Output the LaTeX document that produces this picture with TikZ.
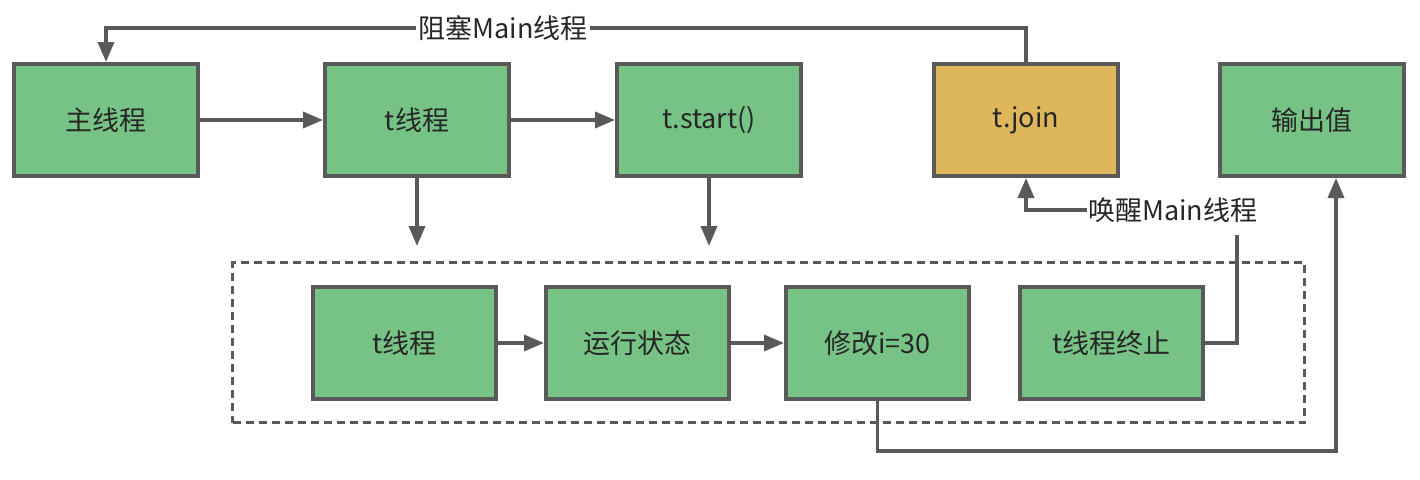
\documentclass[tikz,border=0pt]{standalone}
\usepackage{fontspec}
\setmainfont{Noto Sans CJK SC}
\usetikzlibrary{arrows.meta}
\definecolor{boxgreen}{HTML}{77C386}
\definecolor{boxgold}{HTML}{DFB75B}
\definecolor{edge}{HTML}{595959}
\definecolor{txt}{HTML}{262626}
\tikzset{
  box/.style={draw=edge, line width=4pt, fill=boxgreen, minimum width=184pt, minimum height=112pt, inner sep=0pt, text=txt, font=\fontsize{27}{32}\selectfont, anchor=north west},
  ibox/.style={box, minimum width=183pt, minimum height=112pt},
  conn/.style={draw=edge, line width=3.5pt, -{Triangle[length=20pt,width=16pt]}},
  plain/.style={draw=edge, line width=3.5pt},
  lbl/.style={fill=white, text=txt, font=\fontsize{27}{32}\selectfont, inner sep=2pt},
}
\begin{document}
\begin{tikzpicture}[x=1pt,y=-1pt]
\useasboundingbox (0,0) rectangle (1420,479);
% top row
\node[box] (main) at (12,62) {主线程};
\node[box] (t1) at (323,62) {t线程};
\node[box] (start) at (615,62) {t.start()};
\node[box, fill=boxgold] (join) at (932,62) {t.join};
\node[box] (out) at (1218,62) {输出值};
% dashed group
\node[draw=edge, line width=3pt, dash pattern=on 8pt off 5pt, minimum width=1072pt, minimum height=160pt, anchor=north west, inner sep=0pt] (grp) at (231,261) {};
% inner row
\node[ibox] (t2) at (311,285) {t线程};
\node[ibox] (run) at (544,285) {运行状态};
\node[ibox] (mod) at (784,285) {修改i=30};
\node[ibox] (term) at (1018,285) {t线程终止};
% coordinates
\coordinate (d1) at (t1.south |- 0,246);
\coordinate (d2) at (start.south |- 0,246);
\coordinate (topy) at (0,28);
\coordinate (wk) at (1237,235);
\coordinate (bot) at (0,451);
\coordinate (outx) at (1336,0);
% connectors
\draw[conn] (main) -- (t1);
\draw[conn] (t1) -- (start);
\draw[conn] (t1.south) -- (d1);
\draw[conn] (start.south) -- (d2);
\draw[conn] (join.north) -- (join.north |- topy) -- (main.north |- topy) -- (main.north);
\node[lbl] (blk) at (503,28) {阻塞Main线程};
\draw[conn] (t2) -- (run);
\draw[conn] (run) -- (mod);
\draw[plain] (term.east) -- (term.east -| wk) -- (wk);
\node[lbl, anchor=west, inner sep=1pt] (wake) at (1087,210) {唤醒Main线程};
\draw[conn] (wake.west) -- (wake.west -| join.south) -- (join.south);
\draw[conn] (mod.south) -- (mod.south |- bot) -- (outx |- bot) -- (outx |- out.south);
\end{tikzpicture}
\end{document}
